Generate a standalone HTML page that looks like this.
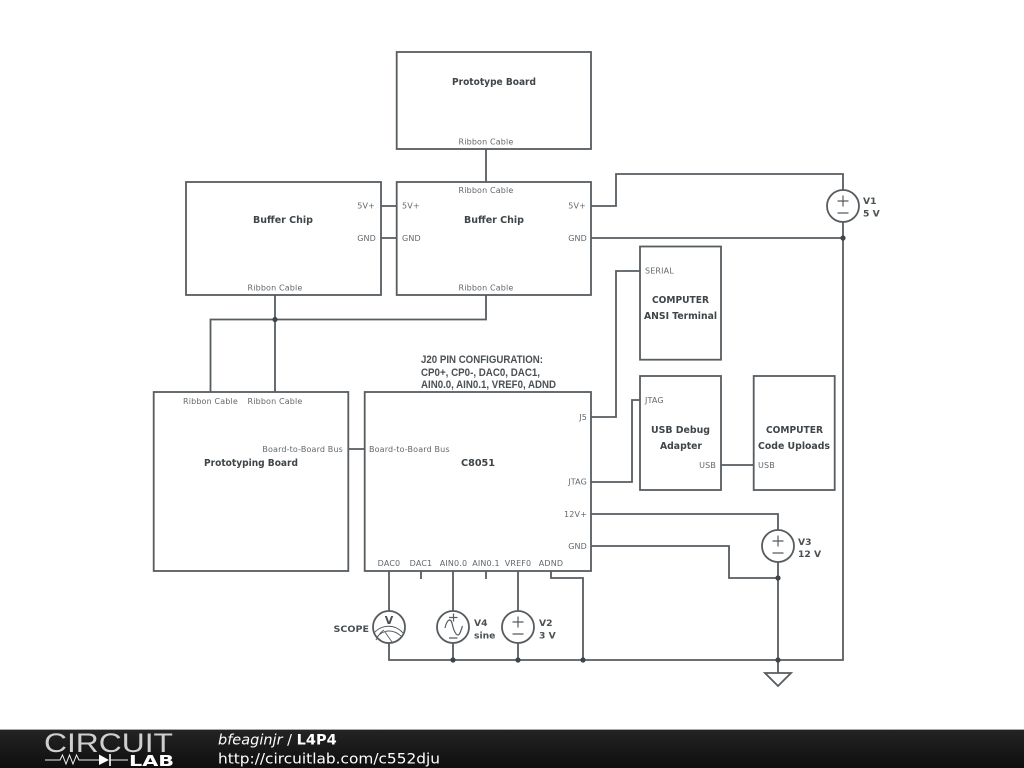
<!DOCTYPE html>
<html>
<head>
<meta charset="utf-8">
<title>L4P4</title>
<style>
html,body{margin:0;padding:0;background:#fff;width:1024px;height:768px;overflow:hidden}
svg{display:block}
.w{fill:none;stroke:#565c60;stroke-width:1.8}
.s{fill:none;stroke:#565c60;stroke-width:1.2}
.d{fill:#3f4548}
.l{font-family:"DejaVu Sans",sans-serif;font-size:8px;fill:#63686c;letter-spacing:.15px}
.t{font-family:"DejaVu Sans",sans-serif;font-size:9.7px;font-weight:bold;fill:#3f4548}
.h{font-family:"Liberation Sans",sans-serif;font-size:10.8px;font-weight:bold;fill:#4a5053}
.v{font-family:"DejaVu Sans",sans-serif;font-size:9.2px;font-weight:bold;fill:#4a5053}
</style>
</head>
<body>
<svg width="1024" height="768" viewBox="0 0 1024 768" xmlns="http://www.w3.org/2000/svg">
<defs>
<linearGradient id="bar" x1="0" y1="0" x2="0" y2="1"><stop offset="0" stop-color="#242424"/><stop offset="1" stop-color="#0e0e0e"/></linearGradient>
</defs>
<rect width="1024" height="768" fill="#fff"/>

<!-- boxes -->
<rect class="w" x="396.7" y="52" width="194.3" height="97"/>
<rect class="w" x="186" y="182" width="195" height="113"/>
<rect class="w" x="396.7" y="182" width="194.3" height="113"/>
<rect class="w" x="153.7" y="392" width="194.6" height="179"/>
<rect class="w" x="364.7" y="392" width="226.3" height="179"/>
<rect class="w" x="640" y="246.5" width="81" height="113.2"/>
<rect class="w" x="640" y="376" width="81" height="114"/>
<rect class="w" x="753.7" y="376" width="81" height="114"/>

<!-- wires -->
<path class="w" d="M486 149V182"/>
<path class="w" d="M381 206H397M381 238H397"/>
<path class="w" d="M591 206H616V174H843V190"/>
<path class="w" d="M591 238H843"/>
<path class="w" d="M843 222V660H389V643"/>
<path class="w" d="M275 295V392M486 295V319.5H210.5V392"/>
<path class="w" d="M348 449H365"/>
<path class="w" d="M591 417H616V271H640"/>
<path class="w" d="M591 482H632V400H640"/>
<path class="w" d="M721 465H754"/>
<path class="w" d="M591 514H778V530"/>
<path class="w" d="M591 546H729V578H778"/>
<path class="w" d="M778 562V673"/>
<path class="w" d="M389 571V611M453 571V611M518 571V611"/>
<path class="w" d="M421 571V579M486 571V579"/>
<path class="w" d="M551 571V578H583V660"/>
<path class="w" d="M453 643V660M518 643V660"/>
<path class="w" d="M765 673H791L778 686Z"/>

<!-- junctions -->
<circle class="d" cx="275" cy="319.5" r="2.6"/>
<circle class="d" cx="843" cy="238" r="2.6"/>
<circle class="d" cx="778" cy="578" r="2.6"/>
<circle class="d" cx="778" cy="660" r="2.6"/>
<circle class="d" cx="583" cy="660" r="2.6"/>
<circle class="d" cx="518" cy="660" r="2.6"/>
<circle class="d" cx="453" cy="660" r="2.6"/>

<!-- V1 -->
<circle class="w" cx="843" cy="206" r="16"/>
<path class="s" d="M837.5 201H848.5M843 195.5V206.5M837.5 213H848.5"/>
<!-- V3 -->
<circle class="w" cx="778" cy="546" r="16"/>
<path class="s" d="M772.5 541H783.5M778 535.5V546.5M772.5 553H783.5"/>
<!-- V2 -->
<circle class="w" cx="518" cy="627" r="16"/>
<path class="s" d="M512.5 622H523.5M518 616.500V627.500M512.5 634H523.5"/>
<!-- V4 -->
<circle class="w" cx="453" cy="627" r="16"/>
<path class="s" d="M449 617.500H457.500M453.500 613.500V621.500M449 638H457.500"/>
<path class="s" d="M445 628C446 623 448 620 449.500 620C452 620 452 624 453 627C454 631 456 635 458 635C460 635 461 630 462.500 626"/>
<!-- Scope -->
<circle class="w" cx="389" cy="627" r="16"/>
<path class="s" d="M374 633C382 624 395 624 403 633M377 637C384 629 394 629 402 637M376 640C379 634 381 632 384 630M385 632L392 642" style="stroke-width:.9"/>
<text class="v" x="389" y="624" text-anchor="middle" style="font-size:11px">V</text>

<!-- titles -->
<text class="t" x="452" y="85" textLength="84" lengthAdjust="spacingAndGlyphs">Prototype Board</text>
<text class="t" x="253" y="223" textLength="60" lengthAdjust="spacingAndGlyphs">Buffer Chip</text>
<text class="t" x="464" y="223" textLength="60" lengthAdjust="spacingAndGlyphs">Buffer Chip</text>
<text class="t" x="204" y="466" textLength="94" lengthAdjust="spacingAndGlyphs">Prototyping Board</text>
<text class="t" x="461" y="466" textLength="34" lengthAdjust="spacingAndGlyphs">C8051</text>
<text class="t" x="652" y="303" textLength="57" lengthAdjust="spacingAndGlyphs">COMPUTER</text>
<text class="t" x="644" y="319" textLength="73" lengthAdjust="spacingAndGlyphs">ANSI Terminal</text>
<text class="t" x="651" y="433" textLength="59" lengthAdjust="spacingAndGlyphs">USB Debug</text>
<text class="t" x="660" y="449" textLength="42" lengthAdjust="spacingAndGlyphs">Adapter</text>
<text class="t" x="766" y="433" textLength="57" lengthAdjust="spacingAndGlyphs">COMPUTER</text>
<text class="t" x="758" y="449" textLength="72" lengthAdjust="spacingAndGlyphs">Code Uploads</text>

<!-- port labels -->
<text class="l" x="486" y="144.500" text-anchor="middle">Ribbon Cable</text>
<text class="l" x="486" y="193" text-anchor="middle">Ribbon Cable</text>
<text class="l" x="275" y="290.500" text-anchor="middle">Ribbon Cable</text>
<text class="l" x="486" y="290.500" text-anchor="middle">Ribbon Cable</text>
<text class="l" x="210.500" y="404" text-anchor="middle">Ribbon Cable</text>
<text class="l" x="275" y="404" text-anchor="middle">Ribbon Cable</text>
<text class="l" x="375" y="208.500" text-anchor="end">5V+</text>
<text class="l" x="376" y="241" text-anchor="end">GND</text>
<text class="l" x="402" y="208.500">5V+</text>
<text class="l" x="402" y="241">GND</text>
<text class="l" x="586" y="208.500" text-anchor="end">5V+</text>
<text class="l" x="587" y="241" text-anchor="end">GND</text>
<text class="l" x="645" y="273.500">SERIAL</text>
<text class="l" x="645" y="403">JTAG</text>
<text class="l" x="716" y="468" text-anchor="end">USB</text>
<text class="l" x="758" y="468">USB</text>
<text class="l" x="343" y="452" text-anchor="end">Board-to-Board Bus</text>
<text class="l" x="369" y="452">Board-to-Board Bus</text>
<text class="l" x="587" y="420" text-anchor="end">J5</text>
<text class="l" x="587" y="484.500" text-anchor="end">JTAG</text>
<text class="l" x="587" y="517" text-anchor="end">12V+</text>
<text class="l" x="587" y="549" text-anchor="end">GND</text>
<text class="l" x="389" y="566" text-anchor="middle">DAC0</text>
<text class="l" x="421" y="566" text-anchor="middle">DAC1</text>
<text class="l" x="453.500" y="566" text-anchor="middle">AIN0.0</text>
<text class="l" x="486" y="566" text-anchor="middle">AIN0.1</text>
<text class="l" x="518" y="566" text-anchor="middle">VREF0</text>
<text class="l" x="551" y="566" text-anchor="middle">ADND</text>

<!-- note -->
<text class="h" x="421" y="363" textLength="122" lengthAdjust="spacingAndGlyphs">J20 PIN CONFIGURATION:</text>
<text class="h" x="421" y="376" textLength="119" lengthAdjust="spacingAndGlyphs">CP0+, CP0-, DAC0, DAC1,</text>
<text class="h" x="421" y="388" textLength="135" lengthAdjust="spacingAndGlyphs">AIN0.0, AIN0.1, VREF0, ADND</text>

<!-- component labels -->
<text class="v" x="863" y="204">V1</text>
<text class="v" x="863" y="216.500">5 V</text>
<text class="v" x="798" y="545">V3</text>
<text class="v" x="798" y="557">12 V</text>
<text class="v" x="474" y="626">V4</text>
<text class="v" x="474" y="638.500">sine</text>
<text class="v" x="539" y="626">V2</text>
<text class="v" x="539" y="638.500">3 V</text>
<text class="v" x="333.500" y="632" textLength="35.500" lengthAdjust="spacingAndGlyphs">SCOPE</text>

<!-- footer -->
<rect x="0" y="729" width="1024" height="1.500" fill="#a8a8a8"/>
<rect x="0" y="730" width="1024" height="38" fill="url(#bar)"/>
<text x="44" y="752" font-family="'Liberation Sans',sans-serif" font-size="27" fill="#cfcfcf" textLength="129" lengthAdjust="spacingAndGlyphs">CIRCUIT</text>
<path d="M45 760H60L62.500 755L66 764L69.500 755L73 764L76.500 755L79 760H99" fill="none" stroke="#eee" stroke-width="1"/>
<path d="M99 754.500V765L109 760Z" fill="#fff"/>
<path d="M110 754V766" stroke="#fff" stroke-width="1.600"/>
<path d="M110 760H128" stroke="#eee" stroke-width="1"/>
<text x="129" y="766" font-family="'DejaVu Sans',sans-serif" font-size="15.500" font-weight="bold" fill="#fff" textLength="45" lengthAdjust="spacingAndGlyphs">LAB</text>
<text x="218" y="744.500" font-family="'DejaVu Sans',sans-serif" font-size="14.500" fill="#fff"><tspan font-style="italic">bfeaginjr</tspan> / <tspan font-weight="bold">L4P4</tspan></text>
<text x="218" y="763.500" font-family="'DejaVu Sans',sans-serif" font-size="14.500" fill="#fff" textLength="222" lengthAdjust="spacingAndGlyphs">http://circuitlab.com/c552dju</text>
</svg>
</body>
</html>
